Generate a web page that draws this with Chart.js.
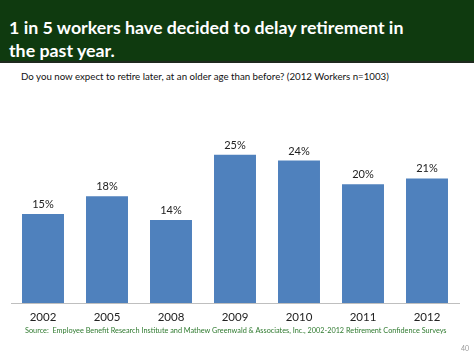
<!DOCTYPE html>
<html lang="en">
<head>
  <meta charset="UTF-8">
  <title>Delay retirement</title>
  <script src="https://cdn.jsdelivr.net/npm/chart.js"></script>
  <style>
    body { margin: 0; width: 474px; height: 355px; background: #fff; font-family: Lato, sans-serif; position: relative; overflow: hidden; }
    #header { position: absolute; left: 0; top: 0; width: 474px; height: 61px; background: #0f3a0f; border-bottom: 2px solid #1e2a1e; }
    #header h1 { margin: 0; position: absolute; left: 9px; top: 16px; color: #fff; font-size: 17.8px; line-height: 23px; font-weight: bold; }
    #subtitle { position: absolute; left: 21px; top: 70px; font-size: 9.7px; color: #111; }
    #chartBox { position: absolute; left: 0; top: 125px; width: 474px; height: 202px; }
    #source { position: absolute; left: 25px; top: 326px; font-size: 7.3px; color: #2f7a2f; white-space: nowrap; }
    #page { position: absolute; left: 461px; top: 344px; font-size: 7px; color: #999; }
  </style>
</head>
<body>
  <div id="header"><h1>1 in 5 workers have decided to delay retirement in<br>the past year.</h1></div>
  <div id="subtitle">Do you now expect to retire later, at an older age than before? (2012 Workers n=1003)</div>
  <div id="chartBox"><canvas id="myChart"></canvas></div>
  <div id="source">Source:&nbsp; Employee Benefit Research Institute and Mathew Greenwald &amp; Associates, Inc., 2002-2012 Retirement Confidence Surveys</div>
  <div id="page">40</div>

  <script>
    const years = ['2002', '2005', '2008', '2009', '2010', '2011', '2012'];
    const delayed = [15, 18, 14, 25, 24, 20, 21];

    // draw the % labels above each bar
    const valueLabels = {
      id: 'valueLabels',
      afterDatasetsDraw(chart) {
        const ctx = chart.ctx;
        const meta = chart.getDatasetMeta(0);
        ctx.save();
        ctx.font = '11px Lato, sans-serif';
        ctx.fillStyle = '#222';
        ctx.textAlign = 'center';
        ctx.textBaseline = 'bottom';
        meta.data.forEach((bar, i) => {
          ctx.fillText(delayed[i] + '%', bar.x, bar.y - 4);
        });
        ctx.restore();
      }
    };

    new Chart(document.getElementById('myChart'), {
      type: 'bar',
      data: {
        labels: years,
        datasets: [{
          data: delayed,
          backgroundColor: '#4f81bd',
          barPercentage: 0.656,
          categoryPercentage: 1.0
        }]
      },
      options: {
        responsive: true,
        maintainAspectRatio: false,
        animation: false,
        layout: { padding: { left: 11, right: 15, top: 0, bottom: 0 } },
        plugins: { legend: { display: false }, tooltip: { enabled: false } },
        scales: {
          y: { display: false, min: 0, max: 30 },
          x: {
            // fixed axis height so the baseline lands where it should
            afterFit(scale) { scale.height = 24; },
            grid: { display: false, drawTicks: false, tickLength: 0 },
            border: { color: '#bfbfbf', width: 1 },
            ticks: { color: '#222', font: { family: 'Lato', size: 11.5 }, padding: 7 }
          }
        }
      },
      plugins: [valueLabels]
    });
  </script>
</body>
</html>
